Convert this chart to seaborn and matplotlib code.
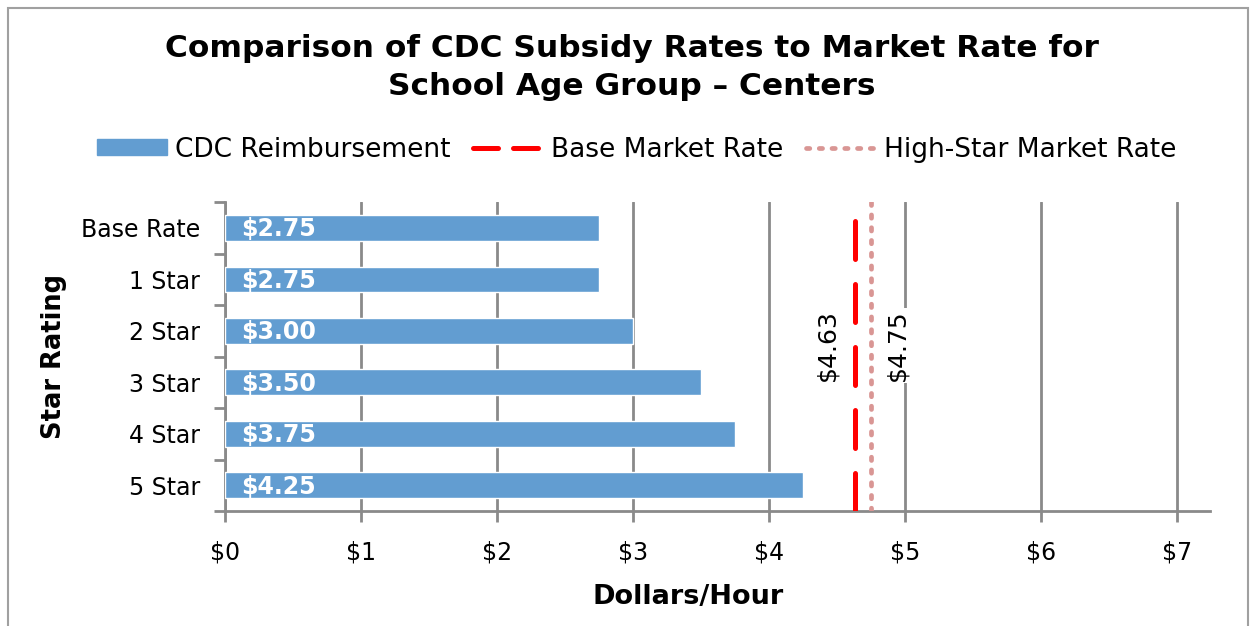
import matplotlib
matplotlib.use("Agg")
import matplotlib.pyplot as plt
import matplotlib.patches as mpatches
from matplotlib.lines import Line2D
import seaborn as sns
import pandas as pd

# ---------------------------------- données ----------------------------------
categories = ["Base Rate", "1 Star", "2 Star", "3 Star", "4 Star", "5 Star"]
reimbursement = [2.75, 2.75, 3.00, 3.50, 3.75, 4.25]
base_market_rate = 4.63
high_star_market_rate = 4.75
x_ticks = [0, 1, 2, 3, 4, 5, 6, 7]

BAR_COLOR = "#629dd1"
RED = "#ff0000"
PINK = "#d99694"
GRID = "#8a8a8a"

sns.set_theme(style="white")
plt.rcParams["font.family"] = ["DejaVu Sans"]
plt.rcParams["text.color"] = "black"
plt.rcParams["axes.labelcolor"] = "black"

df = pd.DataFrame({"rating": categories, "rate": reimbursement})

fig = plt.figure(figsize=(12.53, 6.26), dpi=100)
ax = fig.add_axes([0.1796, 0.1837, 0.786, 0.4933])

sns.barplot(data=df, x="rate", y="rating", orient="h", color=BAR_COLOR,
            width=0.5, saturation=1, ax=ax, zorder=3)

ax.set_xlim(0, 7.24)
ax.set_ylim(len(categories) - 0.5, -0.5)

# grille verticale
ax.set_xticks(x_ticks)
ax.set_xticklabels([f"${v}" for v in x_ticks], fontsize=17)
ax.xaxis.grid(True, color=GRID, linewidth=2, zorder=0)
ax.set_axisbelow(True)

# ticks de l'axe y aux frontières des catégories (style Excel)
ax.set_yticks(range(len(categories)))
ax.set_yticklabels(categories, fontsize=17)
ax.set_yticks([i - 0.5 for i in range(len(categories) + 1)], minor=True)
ax.tick_params(axis="y", which="major", length=0, pad=18, labelcolor="black")
ax.tick_params(axis="y", which="minor", length=8, width=2, color=GRID, left=True)
ax.tick_params(axis="x", which="major", length=8, width=2, color=GRID,
               bottom=True, pad=13, labelcolor="black")

for side in ["top", "right"]:
    ax.spines[side].set_visible(False)
for side in ["left", "bottom"]:
    ax.spines[side].set_color(GRID)
    ax.spines[side].set_linewidth(2)

# étiquettes des barres
for i, v in enumerate(reimbursement):
    ax.text(0.12, i + 0.03, f"${v:.2f}", color="white", fontsize=17,
            fontweight="bold", va="center", ha="left", zorder=4)

# lignes des taux du marché (tracées du bas vers le haut)
y_bottom, y_top = len(categories) - 0.5, -0.5
ax.plot([base_market_rate, base_market_rate], [y_bottom, y_top], color=RED,
        linewidth=3.6, dashes=(7.6, 5), dash_capstyle="round", zorder=4)
ax.plot([high_star_market_rate, high_star_market_rate], [y_bottom, y_top],
        color=PINK, linewidth=3.4, dashes=(0.7, 2.0), dash_capstyle="round",
        zorder=4)

ax.text(4.43, 2.28, f"${base_market_rate:.2f}", rotation=90, fontsize=18,
        ha="center", va="center", zorder=5)
ax.text(4.945, 2.28, f"${high_star_market_rate:.2f}", rotation=90, fontsize=18,
        ha="center", va="center", zorder=5,
        bbox=dict(facecolor="white", edgecolor="none", pad=1))

ax.set_xlabel("Dollars/Hour", fontsize=19.5, fontweight="bold", va="top")
ax.xaxis.set_label_coords(0.47, -0.236)
ax.set_ylabel("Star Rating", fontsize=18.5, fontweight="bold", labelpad=10)

fig.text(0.504, 0.892, "Comparison of CDC Subsidy Rates to Market Rate for\n"
         "School Age Group \u2013 Centers", ha="center", va="center",
         fontsize=22.5, fontweight="bold", linespacing=1.4)

handles = [
    mpatches.Patch(color=BAR_COLOR, label="CDC Reimbursement"),
    Line2D([0], [0], color=RED, linewidth=3.6, dashes=(5, 3),
           dash_capstyle="round", label="Base Market Rate"),
    Line2D([0], [0], color=PINK, linewidth=3.4, dashes=(0.7, 2.0),
           dash_capstyle="round", label="High-Star Market Rate"),
]
fig.legend(handles=handles, loc="center", bbox_to_anchor=(0.508, 0.761),
           ncol=3, frameon=False, fontsize=19, handlelength=2.65,
           handleheight=0.55, handletextpad=0.3, columnspacing=0.87)

# cadre du graphique
fig.patches.append(mpatches.Rectangle((0.006, -0.01), 0.99, 0.997,
                                      transform=fig.transFigure,
                                      fill=False, edgecolor="#a0a0a0",
                                      linewidth=1.5))

fig.savefig("out.png", dpi=100)
